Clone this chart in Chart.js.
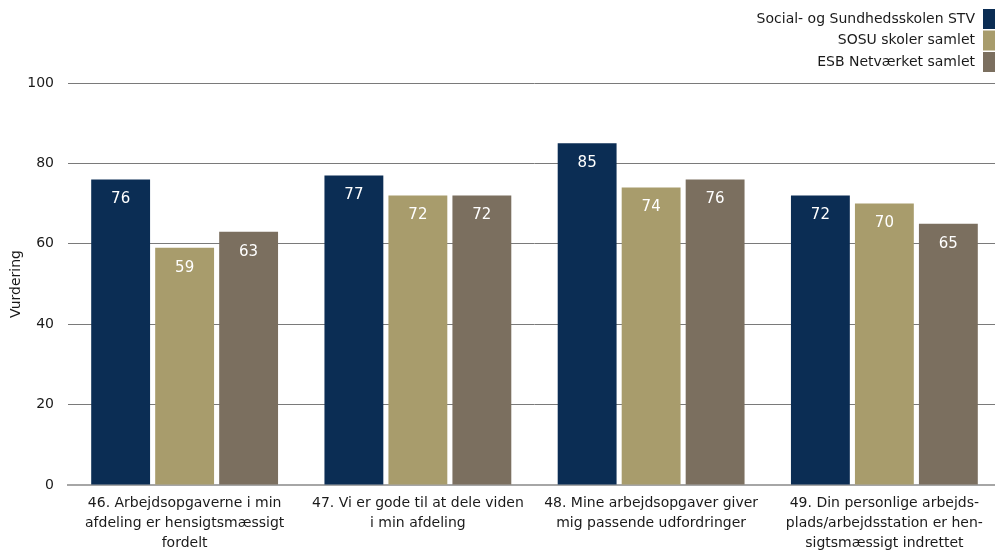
<!DOCTYPE html>
<html>
<head>
<meta charset="utf-8">
<script src="https://cdn.jsdelivr.net/npm/chart.js@4/dist/chart.umd.min.js"></script>
<style>
  html, body { margin: 0; padding: 0; overflow: hidden; background: #fff; }
  #wrap { position: relative; width: 1001px; height: 550px; }
</style>
</head>
<body>
<div id="wrap"><canvas id="c"></canvas></div>
<script>
// Questions (x categories)
const categories = [
  ["46. Arbejdsopgaverne i min", "afdeling er hensigtsmæssigt", "fordelt"],
  ["47. Vi er gode til at dele viden", "i min afdeling"],
  ["48. Mine arbejdsopgaver giver", "mig passende udfordringer"],
  ["49. Din personlige arbejds-", "plads/arbejdsstation er hen-", "sigtsmæssigt indrettet"]
];
const seriesNames = ["Social- og Sundhedsskolen STV", "SOSU skoler samlet", "ESB Netværket samlet"];
const stvValues = [76, 77, 85, 72];
const sosuValues = [59, 72, 74, 70];
const esbValues = [63, 72, 76, 65];
const yTicks = [0, 20, 40, 60, 80, 100];
const seriesColors = ["#0b2d54", "#a89c6c", "#7b6f5f"];

const FONT = "'DejaVu Sans', Verdana, sans-serif";

// Value labels written inside the top of each bar
const valueLabels = {
  id: "valueLabels",
  afterDatasetsDraw(chart) {
    const ctx = chart.ctx;
    ctx.save();
    ctx.font = "15px " + FONT;
    ctx.fillStyle = "#ffffff";
    ctx.textAlign = "center";
    ctx.textBaseline = "middle";
    chart.data.datasets.forEach((ds, i) => {
      chart.getDatasetMeta(i).data.forEach((bar, j) => {
        ctx.fillText(String(Math.round(ds.data[j])), bar.x, bar.y + 20);
      });
    });
    ctx.restore();
  }
};

// Stacked legend in the top-right corner, swatch to the right of the text
const stackedLegend = {
  id: "stackedLegend",
  afterDraw(chart) {
    const ctx = chart.ctx;
    ctx.save();
    ctx.font = "14px " + FONT;
    ctx.textAlign = "right";
    ctx.textBaseline = "middle";
    const boxLeft = 983, textRight = 975;
    chart.data.datasets.forEach((ds, i) => {
      const top = 9 + i * 21.5;
      ctx.fillStyle = ds.backgroundColor;
      ctx.fillRect(boxLeft, top, 20, 20);
      ctx.fillStyle = "#1a1a1a";
      ctx.fillText(ds.label, textRight, top + 10);
    });
    ctx.restore();
  }
};

const mk = (name, values, color) => ({
  label: name, data: values, backgroundColor: color,
  categoryPercentage: 0.823, barPercentage: 0.92
});

new Chart(document.getElementById("c"), {
  type: "bar",
  data: {
    labels: categories,
    datasets: [
      mk(seriesNames[0], stvValues, seriesColors[0]),
      mk(seriesNames[1], sosuValues, seriesColors[1]),
      mk(seriesNames[2], esbValues, seriesColors[2])
    ]
  },
  options: {
    responsive: true,
    maintainAspectRatio: false,
    animation: false,
    layout: { padding: { top: 83, right: 0, left: 0, bottom: 0 } },
    plugins: { legend: { display: false }, tooltip: { enabled: false } },
    scales: {
      x: {
        grid: { display: false, drawTicks: false },
        border: { display: true, color: "#a6a6a6", width: 2 },
        ticks: {
          color: "#1a1a1a", padding: 8, maxRotation: 0, autoSkip: false,
          font: { family: FONT, size: 14, lineHeight: 1.45 }
        },
        afterFit(s) { s.height = 65; }
      },
      y: {
        min: 0, max: 100,
        afterBuildTicks(s) { s.ticks = yTicks.map(v => ({ value: v })); },
        grid: {
          color: (c) => c.tick && c.tick.value === 0 ? "rgba(0,0,0,0)" : "#7a7a7a",
          lineWidth: 1, drawTicks: false
        },
        border: { display: false },
        ticks: {
          color: "#1a1a1a", padding: 14,
          font: { family: FONT, size: 14 }
        },
        title: {
          display: true, text: "Vurdering", color: "#1a1a1a",
          font: { family: FONT, size: 14 }, padding: { top: 8, bottom: 0 }
        },
        afterFit(s) { s.width = 68; }
      }
    }
  },
  plugins: [valueLabels, stackedLegend]
});
</script>
</body>
</html>
